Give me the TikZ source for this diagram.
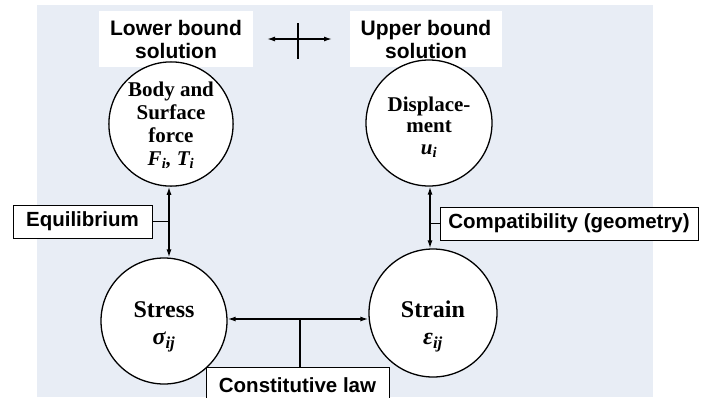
\documentclass[tikz,border=0pt]{standalone}
\usepackage{fontspec}
\setmainfont{Liberation Serif}
\newfontfamily\arialf{Liberation Sans}
\usetikzlibrary{arrows.meta}
\definecolor{bgc}{HTML}{E8EDF5}
\begin{document}
\begin{tikzpicture}[x=1pt,y=-1pt,
  lbl/.style={draw=black, line width=1pt, fill=white, inner sep=0pt,
    font=\arialf\bfseries\fontsize{20.5}{23}\selectfont, align=center},
  topbox/.style={fill=white, inner sep=0pt,
    font=\arialf\bfseries\fontsize{21}{23}\selectfont, align=center},
  blob/.style={circle, draw=black, line width=1.3pt, fill=white, inner sep=0pt,
    font=\bfseries\fontsize{21}{23}\selectfont, align=center},
  conn/.style={line width=1.4pt, <->, >={Latex[length=8pt,width=5pt]}},
  tick/.style={line width=1.4pt}]
\clip (0,0) rectangle (702,397);
\fill[white] (0,0) rectangle (702,397);
\fill[bgc] (37,5) rectangle (653,397);

% top boxes
\node[topbox, minimum width=154pt, minimum height=56pt] (lower) at (176,39) {Lower bound\\solution};
\node[topbox, minimum width=152pt, minimum height=56pt] (upper) at (426,39) {Upper bound\\solution};

% symbol between them
\coordinate (hl) at (267,39);
\coordinate (hr) at (332,39);
\coordinate (vt) at (298,23);
\coordinate (vb) at (298,59);
\draw[conn] (hl) -- (hr);
\draw[tick] (vt) -- (vb);

% circles
\node[blob, minimum size=124pt] (body) at (171,124)
  {\rule{0pt}{18pt}Body and\\Surface\\force\\{\itshape F\textsubscript{i}, T\textsubscript{i}}};
\node[blob, minimum size=126pt, font=\bfseries\fontsize{21}{21.5}\selectfont] (disp) at (429,123)
  {\rule{0pt}{23pt}Displace-\\ment\\{\itshape u\textsubscript{i}}};
\node[blob, minimum size=126pt, font=\bfseries\fontsize{24}{27}\selectfont] (stress) at (164,321)
  {\rule{0pt}{27pt}Stress\\{\itshape σ\textsubscript{ij}}};
\node[blob, minimum size=128pt, font=\bfseries\fontsize{24}{27}\selectfont] (strain) at (433,313)
  {\rule{0pt}{43pt}Strain\\{\itshape ε\textsubscript{ij}}};

% label boxes
\node[lbl, minimum width=139pt, minimum height=33pt] (equ) at (82.5,221.5) {Equilibrium};
\node[lbl, minimum width=258pt, minimum height=33pt] (comp) at (569,223.5) {Compatibility (geometry)};
\node[lbl, minimum width=183pt, minimum height=36pt] (const) at (297.5,385) {Constitutive law};

% connectors
\coordinate (lv) at (169,0);
\coordinate (rv) at (430,0);
\coordinate (hc) at (300,319);
\draw[conn] (lv |- body.south) -- (lv |- stress.north);
\draw[conn] (rv |- disp.south) -- (rv |- strain.north);
\draw[conn] (stress.east |- hc) -- (strain.west |- hc);
\draw[tick] (hc) -- (hc |- const.north);
\draw[tick] (equ.east) -- (equ.east -| lv);
\draw[tick] (comp.west) -- (comp.west -| rv);
\end{tikzpicture}
\end{document}
